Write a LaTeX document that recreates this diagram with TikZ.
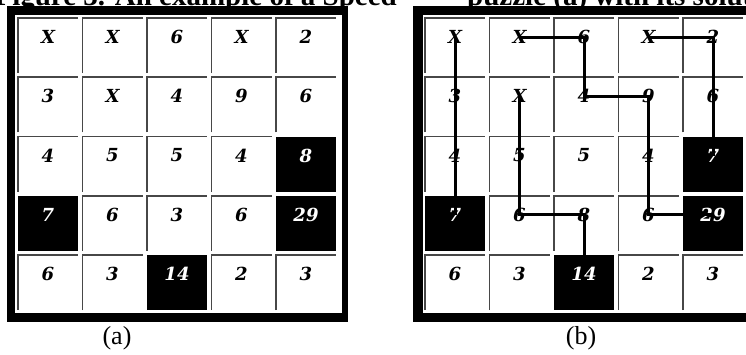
\documentclass[tikz,border=0pt]{standalone}
\usepackage{fontspec}
\setmainfont{Liberation Serif}
\newfontfamily\digitfont{DejaVu Serif}
\tikzset{
  cellbox/.style={minimum width=60pt, minimum height=55pt, inner sep=0pt, outer sep=0pt, anchor=north west, draw=none},
  blackcell/.style={cellbox, fill=black},
  num/.style={font=\digitfont\fontsize{18}{18}\selectfont\bfseries\itshape, inner sep=0pt},
  wnum/.style={num, text=white},
  celledge/.style={draw=black!72, line width=1.9pt},
  sol/.style={line width=3pt, black},
  titletext/.style={font=\fontsize{29}{29}\selectfont\bfseries, inner sep=0pt},
  captext/.style={font=\fontsize{26}{26}\selectfont, inner sep=0pt, anchor=base},
}
% #1 panel x0, #2 panel letter, #3 row, #4 col, #5 value
\newcommand\puzcell[5]{%
  \node[cellbox] (#2#3#4) at ({#1+64.5*(#4-1)},{18+59.25*(#3-1)}) {};
  \draw[celledge] (#2#3#4.south west) -- (#2#3#4.north west) -- (#2#3#4.north east);
  \node[num] (#2#3#4d) at ({#1+64.5*(#4-1)+30},{18+59.25*(#3-1)+19}) {#5};
}
\newcommand\puzblack[5]{%
  \node[blackcell] (#2#3#4) at ({#1+64.5*(#4-1)},{18+59.25*(#3-1)}) {};
  \node[wnum] (#2#3#4d) at ({#1+64.5*(#4-1)+30},{18+59.25*(#3-1)+19}) {#5};
}
\begin{document}
\begin{tikzpicture}[x=1pt,y=-1pt]
\useasboundingbox (0,0) rectangle (746,354);
\clip (0,0) rectangle (746,354);
% title (cut off at top, as in the reference)
\node[titletext, anchor=base east] (title1) at (397,5) {Figure 3. An example of a Speed};
\node[titletext, anchor=base west] (title2) at (467,5) {puzzle (a) with its solution};
% frames
\fill[black] (7,6) rectangle (348,322);
\fill[white] (15,15) rectangle (342,313);
\fill[black] (413,6) rectangle (760,322);
\fill[white] (423,15) rectangle (754,313);
% left panel
\foreach \r/\c/\v in {1/1/X,1/2/X,1/3/6,1/4/X,1/5/2,
                      2/1/3,2/2/X,2/3/4,2/4/9,2/5/6,
                      3/1/4,3/2/5,3/3/5,3/4/4,
                      4/2/6,4/3/3,4/4/6,
                      5/1/6,5/2/3,5/4/2,5/5/3}
  {\puzcell{18}{L}{\r}{\c}{\v}}
\foreach \r/\c/\v in {3/5/8,4/1/7,4/5/29,5/3/14}
  {\puzblack{18}{L}{\r}{\c}{\v}}
% right panel
\foreach \r/\c/\v in {1/1/X,1/2/X,1/3/6,1/4/X,1/5/2,
                      2/1/3,2/2/X,2/3/4,2/4/9,2/5/6,
                      3/1/4,3/2/5,3/3/5,3/4/4,
                      4/2/6,4/3/8,4/4/6,
                      5/1/6,5/2/3,5/4/2,5/5/3}
  {\puzcell{425}{R}{\r}{\c}{\v}}
\foreach \r/\c/\v in {3/5/7,4/1/7,4/5/29,5/3/14}
  {\puzblack{425}{R}{\r}{\c}{\v}}
% solution lines
\draw[sol] (R11d.center) -- (R41d.center);
\draw[sol] (R12d.center) -- (R13d.center) -- (R23d.center) -- (R24d.center) -- (R44d.center) -- (R45d.center);
\draw[sol] (R14d.center) -- (R15d.center) -- (R35d.center);
\draw[sol] (R22d.center) -- (R42d.center) -- (R43d.center) -- (R53d.center);
% captions
\node[captext] (capa) at (117,344) {(a)};
\node[captext] (capb) at (581,344) {(b)};
\end{tikzpicture}
\end{document}
